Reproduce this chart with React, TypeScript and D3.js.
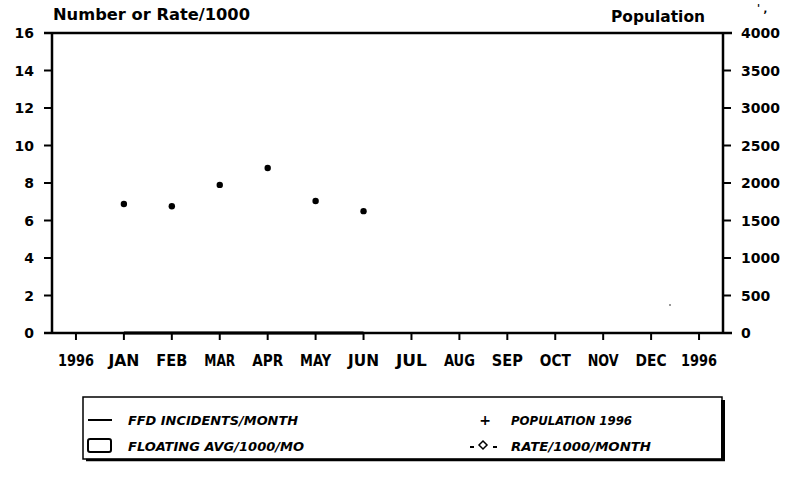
import React from 'react';
import * as d3 from 'd3';

// tick labels along the bottom (first and last are the year)
const monthLabels = ['1996', 'JAN', 'FEB', 'MAR', 'APR', 'MAY', 'JUN', 'JUL', 'AUG', 'SEP', 'OCT', 'NOV', 'DEC', '1996'];
const dataMonths = ['JAN', 'FEB', 'MAR', 'APR', 'MAY', 'JUN'];
const population1996 = [1720, 1690, 1975, 2200, 1760, 1625];
const ffdIncidents = [0, 0, 0, 0, 0, 0];
const leftTicks = [0, 2, 4, 6, 8, 10, 12, 14, 16];
const rightTicks = [0, 500, 1000, 1500, 2000, 2500, 3000, 3500, 4000];

const W = 796;
const H = 484;
const plot = { left: 52, right: 723, top: 33, bottom: 333 };
const font = '"DejaVu Sans", sans-serif';

export default function App() {
  const x = d3.scaleBand<number>()
    .domain(d3.range(monthLabels.length))
    .range([plot.left, plot.right]);
  const cx = (i: number) => (x(i) as number) + x.bandwidth() / 2;
  const idx = (m: string) => monthLabels.indexOf(m);

  const yL = d3.scaleLinear().domain([0, 16]).range([plot.bottom, plot.top]);
  const yR = d3.scaleLinear().domain([0, 4000]).range([plot.bottom, plot.top]);

  const incLine = d3.line<number>()
    .x((_, i) => cx(idx(dataMonths[i])))
    .y(d => yL(d));

  return (
    <svg width={W} height={H} style={{ position: 'absolute', left: 0, top: 0, background: '#fff' }}>
      <rect width={W} height={H} fill="#fff" />
      {/* titles */}
      <text x={53} y={20} fontFamily={font} fontWeight="bold" fontSize={15} textLength={197} lengthAdjust="spacingAndGlyphs" fill="#000">Number or Rate/1000</text>
      <text x={611} y={22} fontFamily={font} fontWeight="bold" fontSize={15} textLength={94} lengthAdjust="spacingAndGlyphs" fill="#000">Population</text>
      <text x={757} y={12} fontFamily={font} fontWeight="bold" fontSize={10} fill="#000">' ,</text>

      {/* frame */}
      <line x1={44} x2={732} y1={plot.top} y2={plot.top} stroke="#000" strokeWidth={2.5} />
      <line x1={plot.left} x2={plot.left} y1={plot.top} y2={plot.bottom} stroke="#000" strokeWidth={2.5} />
      <line x1={plot.right} x2={plot.right} y1={plot.top} y2={plot.bottom} stroke="#000" strokeWidth={2.5} />
      <line x1={44} x2={732} y1={plot.bottom} y2={plot.bottom} stroke="#000" strokeWidth={2.5} />

      {/* left axis */}
      {leftTicks.map(t => (
        <g key={'l' + t}>
          <line x1={44} x2={plot.left} y1={yL(t)} y2={yL(t)} stroke="#000" strokeWidth={2} />
          <text x={34} y={yL(t) + 5} textAnchor="end" fontFamily={font} fontWeight="bold" fontSize={14} fill="#000">{t}</text>
        </g>
      ))}

      {/* right axis */}
      {rightTicks.map(t => (
        <g key={'r' + t}>
          <line x1={plot.right} x2={731} y1={yR(t)} y2={yR(t)} stroke="#000" strokeWidth={2} />
          <text x={741} y={yR(t) + 5} fontFamily={font} fontWeight="bold" fontSize={14} fill="#000">{t}</text>
        </g>
      ))}

      {/* bottom axis */}
      {monthLabels.map((m, i) => (
        <g key={'b' + i}>
          <line x1={cx(i)} x2={cx(i)} y1={plot.bottom} y2={plot.bottom + 7} stroke="#000" strokeWidth={2} />
          <text x={cx(i)} y={366} textAnchor="middle" fontFamily={font} fontWeight="bold" fontSize={15}
            textLength={m.length === 4 ? 36 : 31} lengthAdjust="spacingAndGlyphs" fill="#000">{m}</text>
        </g>
      ))}

      {/* FFD incidents line */}
      <path d={incLine(ffdIncidents) || ''} fill="none" stroke="#000" strokeWidth={3} />

      {/* population points */}
      {population1996.map((p, i) => (
        <circle key={'p' + i} cx={cx(idx(dataMonths[i]))} cy={yR(p)} r={3.2} fill="#000" />
      ))}
      <rect x={669} y={304} width={2} height={2} fill="#999" />

      {/* legend */}
      <rect x={83} y={397} width={639} height={62} fill="#fff" stroke="#000" strokeWidth={1.5} />
      <line x1={723} x2={723} y1={400} y2={461} stroke="#000" strokeWidth={4} />
      <line x1={86} x2={725} y1={460} y2={460} stroke="#000" strokeWidth={2.5} />

      <line x1={88} x2={112} y1={420} y2={420} stroke="#000" strokeWidth={2} />
      <text x={128} y={425} fontFamily={font} fontWeight="bold" fontStyle="italic" fontSize={12} textLength={170} lengthAdjust="spacingAndGlyphs" fill="#000">FFD INCIDENTS/MONTH</text>
      <rect x={88} y={439} width={23} height={13} rx={2} fill="none" stroke="#000" strokeWidth={2} />
      <text x={128} y={451} fontFamily={font} fontWeight="bold" fontStyle="italic" fontSize={12} textLength={176} lengthAdjust="spacingAndGlyphs" fill="#000">FLOATING AVG/1000/MO</text>

      <text x={485} y={425} textAnchor="middle" fontFamily={font} fontWeight="bold" fontSize={14} fill="#000">+</text>
      <text x={511} y={425} fontFamily={font} fontWeight="bold" fontStyle="italic" fontSize={12} textLength={121} lengthAdjust="spacingAndGlyphs" fill="#000">POPULATION 1996</text>
      <line x1={470} x2={474} y1={447} y2={447} stroke="#000" strokeWidth={2} />
      <path d="M483,441 L487,445 L483,449 L479,445 Z" fill="none" stroke="#000" strokeWidth={1.5} />
      <line x1={493} x2={497} y1={447} y2={447} stroke="#000" strokeWidth={2} />
      <text x={511} y={451} fontFamily={font} fontWeight="bold" fontStyle="italic" fontSize={12} textLength={140} lengthAdjust="spacingAndGlyphs" fill="#000">RATE/1000/MONTH</text>
    </svg>
  );
}
